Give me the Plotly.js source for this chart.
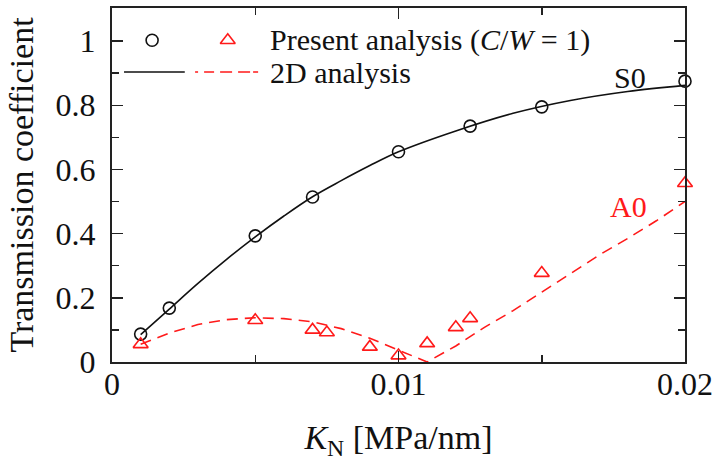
<!DOCTYPE html>
<html><head><meta charset="utf-8">
<script src="https://cdn.plot.ly/plotly-3.0.1.min.js"></script>
<style>html,body{margin:0;padding:0;background:#fff}</style>
</head><body><div id="chart" style="width:716px;height:462px"></div>
<script>
// Present analysis (C/W = 1) – symbols
const s0PointsX = [0.001, 0.002, 0.005, 0.007, 0.010, 0.0125, 0.015, 0.020];
const s0PointsY = [0.087, 0.168, 0.393, 0.514, 0.655, 0.735, 0.795, 0.875];
const a0PointsX = [0.001, 0.005, 0.007, 0.0075, 0.009, 0.010, 0.011, 0.012, 0.0125, 0.015, 0.020];
const a0PointsY = [0.055, 0.130, 0.100, 0.092, 0.047, 0.020, 0.058, 0.108, 0.136, 0.277, 0.557];
// 2D analysis – curves
const s0LineX = [0.001, 0.002, 0.003, 0.004, 0.005, 0.006, 0.007, 0.008, 0.009, 0.010, 0.012, 0.014, 0.016, 0.018, 0.020];
const s0LineY = [0.085, 0.165, 0.245, 0.320, 0.390, 0.455, 0.515, 0.565, 0.612, 0.655, 0.720, 0.775, 0.815, 0.843, 0.862];
const a0LineX = [0.001, 0.002, 0.003, 0.004, 0.005, 0.006, 0.007, 0.008, 0.009, 0.010, 0.011, 0.012, 0.013, 0.014, 0.015, 0.016, 0.017, 0.018, 0.019, 0.020];
const a0LineY = [0.055, 0.090, 0.117, 0.132, 0.138, 0.135, 0.125, 0.104, 0.074, 0.036, 0.000, 0.050, 0.108, 0.160, 0.218, 0.275, 0.333, 0.385, 0.440, 0.500];
// axis ticks
const xTickVals = [0, 0.01, 0.02];
const xTickText = ['0', '0.01', '0.02'];
const yTickVals = [0, 0.2, 0.4, 0.6, 0.8, 1];
const yTickText = ['0', '0.2', '0.4', '0.6', '0.8', '1'];
// legend sample positions (fraction of plot area)
const legCircle = [0.070, 0.909];
const legTriangle = [0.202, 0.909];
const legBlackLineX = [0.021, 0.127];
const legRedLineX = [0.145, 0.255];
const legLineY = 0.819;

const RED = '#ff1a1a';
const BLACK = '#111111';
const FONT = 'Liberation Serif, Times New Roman, serif';

const traces = [
  {x: s0LineX, y: s0LineY, mode: 'lines', line: {color: BLACK, width: 1.6, shape: 'spline'}, showlegend: false, hoverinfo: 'skip'},
  {x: a0LineX, y: a0LineY, mode: 'lines', line: {color: RED, width: 1.6, dash: '11px,7px'}, showlegend: false, hoverinfo: 'skip'},
  {x: s0PointsX, y: s0PointsY, mode: 'markers', cliponaxis: false, marker: {symbol: 'circle-open', size: 12, color: BLACK, line: {width: 1.6, color: BLACK}}, showlegend: false},
  {x: a0PointsX, y: a0PointsY, mode: 'markers', cliponaxis: false, marker: {symbol: 'triangle-up-open', size: 13, color: RED, line: {width: 1.6, color: RED}}, showlegend: false},
  // legend samples on an overlay axis spanning the plot area
  {x: [legCircle[0]], y: [legCircle[1]], xaxis: 'x2', yaxis: 'y2', mode: 'markers', marker: {symbol: 'circle-open', size: 12, color: BLACK, line: {width: 1.6, color: BLACK}}, showlegend: false},
  {x: [legTriangle[0]], y: [legTriangle[1]], xaxis: 'x2', yaxis: 'y2', mode: 'markers', marker: {symbol: 'triangle-up-open', size: 13, color: RED, line: {width: 1.6, color: RED}}, showlegend: false},
  {x: legBlackLineX, y: [legLineY, legLineY], xaxis: 'x2', yaxis: 'y2', mode: 'lines', line: {color: BLACK, width: 1.6}, showlegend: false},
  {x: legRedLineX, y: [legLineY, legLineY], xaxis: 'x2', yaxis: 'y2', mode: 'lines', line: {color: RED, width: 1.6, dash: '3px,6px,10px,6px,12px,6px,12px'}, showlegend: false}
];

const axisCommon = {
  showline: true, linewidth: 2, linecolor: '#222', mirror: 'ticks',
  ticks: 'inside', ticklen: 11, tickwidth: 1.5, tickcolor: '#222',
  showgrid: false, zeroline: false,
  tickfont: {family: FONT, size: 32, color: BLACK}
};

const layout = {
  width: 716, height: 462,
  margin: {l: 112, r: 31, t: 8, b: 100},
  paper_bgcolor: '#fff', plot_bgcolor: '#fff',
  showlegend: false,
  xaxis: Object.assign({}, axisCommon, {
    range: [0, 0.02], tickmode: 'array', tickvals: xTickVals, ticktext: xTickText,
    minor: {dtick: 0.005, tick0: 0, ticks: 'inside', ticklen: 7, tickwidth: 1.5, tickcolor: '#222'},
    ticklabelstandoff: -7,
    title: {text: '<i>K</i><sub>N</sub> [MPa/nm]', font: {family: FONT, size: 34, color: BLACK}, standoff: 24}
  }),
  yaxis: Object.assign({}, axisCommon, {
    range: [0, 1.103], tickmode: 'array', tickvals: yTickVals, ticktext: yTickText,
    minor: {dtick: 0.1, tick0: 0, ticks: 'inside', ticklen: 7, tickwidth: 1.5, tickcolor: '#222'},
    ticklabelstandoff: 8,
    title: {text: 'Transmission coefficient', font: {family: FONT, size: 34, color: BLACK}, standoff: 12}
  }),
  xaxis2: {overlaying: 'x', range: [0, 1], visible: false, anchor: 'y2', fixedrange: true},
  yaxis2: {overlaying: 'y', range: [0, 1], visible: false, anchor: 'x2', fixedrange: true},
  annotations: [
    {xref: 'x2', yref: 'y2', x: 0.272, y: 0.909, xanchor: 'left', yanchor: 'middle', showarrow: false,
     text: 'Present analysis (<i>C</i>/<i>W</i> = 1)', font: {family: FONT, size: 30, color: BLACK}},
    {xref: 'x2', yref: 'y2', x: 0.272, y: 0.819, xanchor: 'left', yanchor: 'middle', showarrow: false,
     text: '2D analysis', font: {family: FONT, size: 30, color: BLACK}},
    {xref: 'x2', yref: 'y2', x: 0.873, y: 0.805, xanchor: 'left', yanchor: 'middle', showarrow: false,
     text: 'S0', font: {family: FONT, size: 30, color: BLACK}},
    {xref: 'x2', yref: 'y2', x: 0.866, y: 0.44, xanchor: 'left', yanchor: 'middle', showarrow: false,
     text: 'A0', font: {family: FONT, size: 30, color: RED}}
  ]
};

Plotly.newPlot('chart', traces, layout, {staticPlot: true, displayModeBar: false});
</script></body></html>
